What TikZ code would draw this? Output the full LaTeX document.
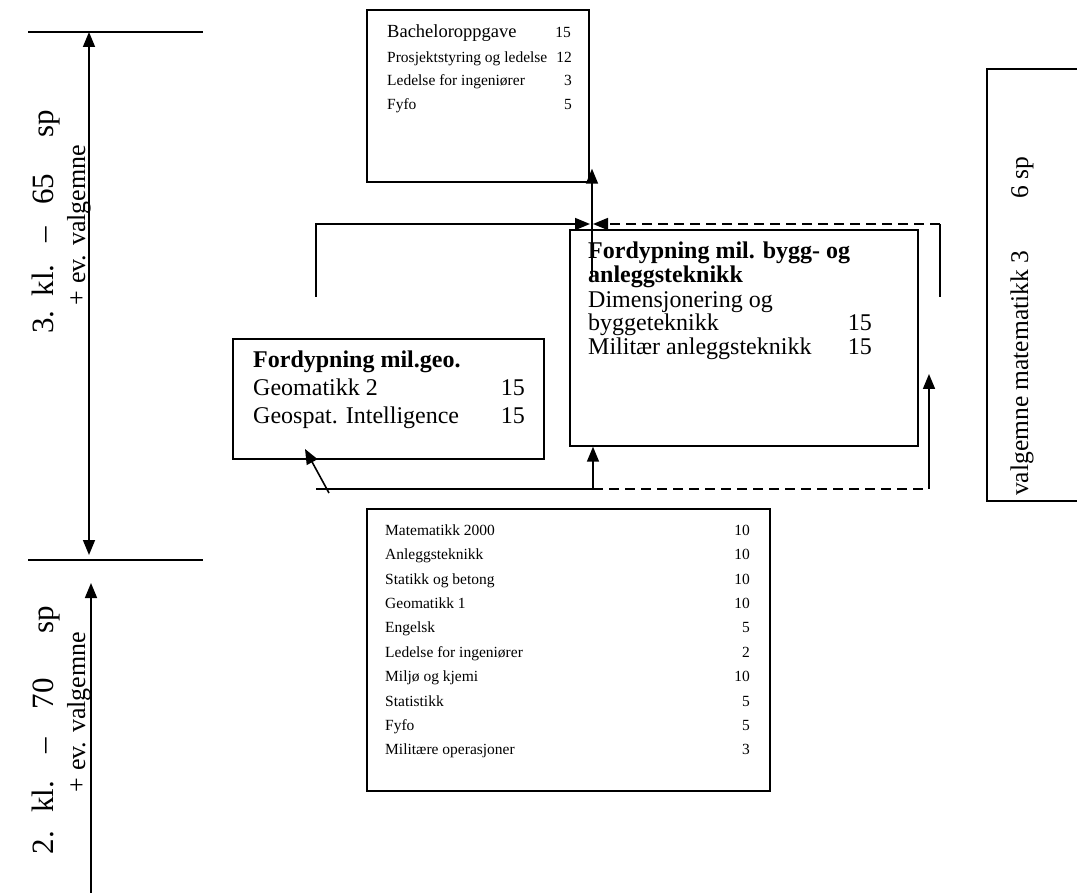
\documentclass[tikz,border=0pt]{standalone}
\usepackage{fontspec}
\setmainfont{Liberation Serif}
\usetikzlibrary{arrows.meta}
\tikzset{
  box/.style={draw, line width=1.7pt, inner sep=0pt, anchor=north west},
  conn/.style={line width=1.6pt},
  dsh/.style={line width=1.6pt, dash pattern=on 10pt off 6pt},
  tip/.style={-{Triangle[length=15pt,width=12pt]}},
  tips/.style={{Triangle[length=15pt,width=12pt]}-{Triangle[length=15pt,width=12pt]}},
  sm/.style={inner sep=0pt, text height=0.68em, text depth=0.22em, font=\fontsize{15.5}{18}\selectfont},
  bg/.style={inner sep=0pt, text height=0.68em, text depth=0.22em, font=\fontsize{24}{26}\selectfont},
  bgb/.style={bg, font=\bfseries\fontsize{24}{26}\selectfont},
  lt/.style={anchor=west},
  rt/.style={anchor=east},
  side/.style={inner sep=0pt, rotate=90, font=\fontsize{26}{30}\selectfont},
  sidebig/.style={inner sep=0pt, rotate=90, font=\fontsize{31}{34}\selectfont},
}
\begin{document}
\begin{tikzpicture}[x=1pt,y=-1pt]
\useasboundingbox (0,0) rectangle (1077,893);
% left scale
\coordinate (t1l) at (28,32); \coordinate (t1r) at (203,32);
\coordinate (t2l) at (28,560); \coordinate (t2r) at (203,560);
\draw[conn] (t1l) -- (t1r);
\draw[conn] (t2l) -- (t2r);
\coordinate (a1t) at (89,32); \coordinate (a1b) at (89,555);
\draw[conn,tips] (a1b) -- (a1t);
\coordinate (a2b) at (91,893); \coordinate (a2t) at (91,583);
\draw[conn,tip] (a2b) -- (a2t);
\node[sidebig] (s1) at (46,222) {3.\hspace{14pt}kl.\hspace{22pt}–\hspace{22pt}65\hspace{36pt}sp};
\node[side] (s2) at (79,225) {+ ev. valgemne};
\node[sidebig] (s3) at (46,730) {2.\hspace{18pt}kl.\hspace{28pt}–\hspace{28pt}70\hspace{45pt}sp};
\node[side] (s4) at (79,712) {+ ev. valgemne};

% top box
\node[box, minimum width=222pt, minimum height=172pt] (top) at (366,9) {};
\node[sm,lt,font=\fontsize{18.5}{22}\selectfont] (b1) at (387,35) {Bacheloroppgave};
\node[sm,lt] (b2) at (387,60) {Prosjektstyring og ledelse};
\node[sm,lt] (b3) at (387,83) {Ledelse for ingeniører};
\node[sm,lt] (b4) at (387,107) {Fyfo};
\node[sm,rt] (n1) at (571,35) {15};
\node[sm,rt] (n2) at (572,60) {12};
\node[sm,rt] (n3) at (572,83) {3};
\node[sm,rt] (n4) at (572,107) {5};

% middle box
\node[box, minimum width=348pt, minimum height=216pt] (mid) at (569,229) {};
\node[bgb,lt] (m1) at (588,256) {Fordypning mil. bygg- og};
\node[bgb,lt] (m2) at (588,280) {anleggsteknikk};
\node[bg,lt] (m3) at (588,305) {Dimensjonering og};
\node[bg,lt] (m4) at (588,328) {byggeteknikk};
\node[bg,lt] (m5) at (588,352) {Militær anleggsteknikk};
\node[bg,rt] (mn4) at (872,328) {15};
\node[bg,rt] (mn5) at (872,352) {15};

% left box
\node[box, minimum width=311pt, minimum height=120pt] (lft) at (232,338) {};
\node[bgb,lt] (l1) at (253,365) {Fordypning mil.geo.};
\node[bg,lt] (l2) at (253,393) {Geomatikk 2};
\node[bg,lt] (l3) at (253,421) {Geospat. Intelligence};
\node[bg,rt] (ln2) at (525,393) {15};
\node[bg,rt] (ln3) at (525,421) {15};

% bottom box
\node[box, minimum width=403pt, minimum height=282pt] (bot) at (366,508) {};
\foreach \t/\n [count=\i from 0] in {Matematikk 2000/10, Anleggsteknikk/10, Statikk og betong/10, Geomatikk 1/10, Engelsk/5, Ledelse for ingeniører/2, Miljø og kjemi/10, Statistikk/5, Fyfo/5, Militære operasjoner/3}{
  \node[sm,lt] (k\i) at (385,533+24.4*\i) {\t};
  \node[sm,rt] (kn\i) at (750,533+24.4*\i) {\n};
}

% right box
\node[box, minimum width=100pt, minimum height=432pt] (rgt) at (986,68) {};
\node[inner sep=0pt, rotate=90, anchor=base west, font=\fontsize{25.5}{28}\selectfont] (rv) at (1028,496) {valgemne matematikk 3\hspace{52pt}6 sp};

% connectors upper
\coordinate (ul) at (316,297); \coordinate (ulc) at (316,224);
\coordinate (ur) at (940,297); \coordinate (urc) at (940,224);
\coordinate (jl) at (590,224); \coordinate (jr) at (593,224);
\draw[conn,tip] (ul) -- (ulc) -- (jl);
\draw[conn] (ur) -- (urc);
\draw[dsh,tip] (urc) -- (jr);
\coordinate (upb) at (592,277);
\draw[conn,tip] (upb) -- (top.south -| upb) -- ++(0,-14);
% connectors lower
\coordinate (ll) at (316,489); \coordinate (lm) at (593,489); \coordinate (lr) at (929,489);
\draw[conn] (ll) -- (lm);
\draw[dsh] (lm) -- (lr);
\draw[conn,tip] (lm) -- (mid.south -| lm);
\draw[conn,tip] (lr) -- (929,374);
\coordinate (gb) at (329,493);
\draw[conn,tip] (gb) -- (305,449);
\end{tikzpicture}
\end{document}
